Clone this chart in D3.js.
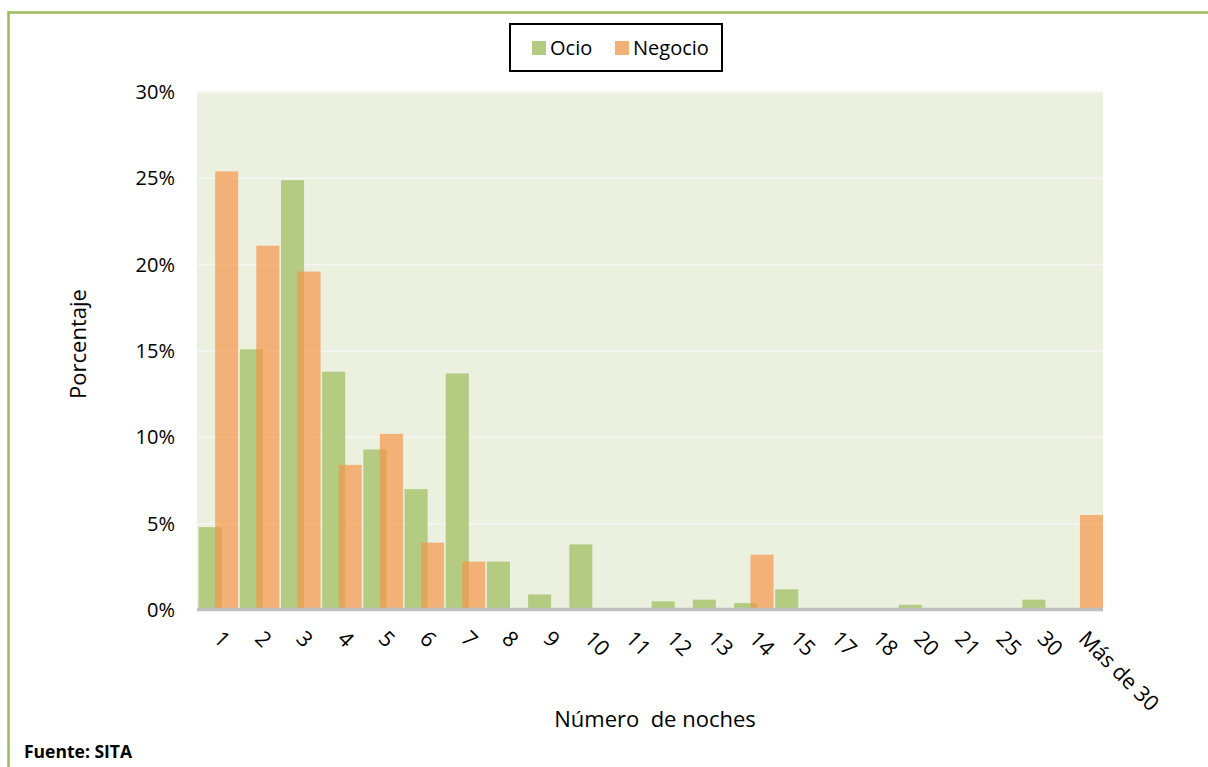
<!DOCTYPE html>
<html>
<head>
<meta charset="utf-8">
<script src="https://cdn.jsdelivr.net/npm/d3@7"></script>
<style>
  html, body { margin: 0; padding: 0; background: #ffffff; }
  svg { display: block; font-family: "Open Sans", sans-serif; }
</style>
</head>
<body>
<svg id="chart" width="1208" height="767"></svg>
<script>
const categories = ["1","2","3","4","5","6","7","8","9","10","11","12","13","14","15","17","18","20","21","25","30","Más de 30"];
const ocio    = [4.8, 15.1, 24.9, 13.8, 9.3, 7.0, 13.7, 2.8, 0.9, 3.8, 0.1, 0.5, 0.6, 0.4, 1.2, 0.1, 0.1, 0.3, 0.1, 0.1, 0.6, 0];
const negocio = [25.4, 21.1, 19.6, 8.4, 10.2, 3.9, 2.8, 0, 0, 0, 0, 0, 0, 3.2, 0, 0, 0, 0, 0, 0, 0, 5.5];
const yTicks = [0, 5, 10, 15, 20, 25, 30];
const seriesNames = ["Ocio", "Negocio"];

const svg = d3.select("#chart");
const plot = { left: 197, right: 1103, top: 92, bottom: 610 };

// outer frame (green lines top and left)
svg.append("line").attr("x1", 8).attr("x2", 1208).attr("y1", 12.5).attr("y2", 12.5)
  .attr("stroke", "#9bbb59").attr("stroke-width", 2.5);
svg.append("line").attr("x1", 8.5).attr("x2", 8.5).attr("y1", 11).attr("y2", 767)
  .attr("stroke", "#9bbb59").attr("stroke-width", 2.5);

const x = d3.scaleBand().domain(categories).range([plot.left, plot.right]).paddingInner(0).paddingOuter(0);
const y = d3.scaleLinear().domain([0, 30]).range([plot.bottom, plot.top]);
const bw = x.bandwidth();

// plot background
svg.append("rect").attr("x", plot.left).attr("y", plot.top)
  .attr("width", plot.right - plot.left).attr("height", plot.bottom - plot.top)
  .attr("fill", "#ebf0df");

// gridlines
svg.append("g").selectAll("line").data(yTicks.filter(d => d > 0)).join("line")
  .attr("x1", plot.left).attr("x2", plot.right)
  .attr("y1", d => y(d)).attr("y2", d => y(d))
  .attr("stroke", "#f4f5f0").attr("stroke-width", 2);

// bars
const data = categories.map((c, i) => ({ c, o: ocio[i], n: negocio[i] }));
svg.append("g").selectAll("rect").data(data).join("rect")
  .attr("x", d => x(d.c) + bw * 0.04)
  .attr("width", bw * 0.56)
  .attr("y", d => y(d.o))
  .attr("height", d => y(0) - y(d.o))
  .attr("fill", "#b3cc82");
svg.append("g").selectAll("rect").data(data).join("rect")
  .attr("x", d => x(d.c) + bw * 0.44)
  .attr("width", bw * 0.56)
  .attr("y", d => y(d.n))
  .attr("height", d => y(0) - y(d.n))
  .attr("fill", "rgb(246,148,70)")
  .attr("fill-opacity", 0.68);

// baseline axis line
svg.append("line").attr("x1", plot.left).attr("x2", plot.right)
  .attr("y1", 609.5).attr("y2", 609.5).attr("stroke", "#c0c0c0").attr("stroke-width", 3.5);

// y axis
const yAxis = svg.append("g").attr("transform", `translate(${plot.left},0)`)
  .call(d3.axisLeft(y).tickValues(yTicks).tickSize(0).tickPadding(22).tickFormat(d => d + "%"));
yAxis.select(".domain").remove();
yAxis.selectAll("text").attr("font-family", "Open Sans").attr("font-size", 20).attr("fill", "#000");

// x axis labels
const xAxis = svg.append("g").attr("transform", `translate(0,${plot.bottom})`)
  .call(d3.axisBottom(x).tickSize(0).tickPadding(0));
xAxis.select(".domain").remove();
xAxis.selectAll("text")
  .attr("font-family", "Open Sans").attr("font-size", 21.5).attr("fill", "#000")
  .attr("text-anchor", "start")
  .attr("dy", 0)
  .attr("y", 0)
  .attr("x", 0)
  .attr("transform", "translate(-5,30) rotate(45)");

// axis titles
svg.append("text").attr("transform", "translate(86,344) rotate(-90)")
  .attr("text-anchor", "middle").attr("font-size", 22).attr("fill", "#000").text("Porcentaje");
svg.append("text").attr("x", 655).attr("y", 727)
  .attr("text-anchor", "middle").attr("font-size", 22).attr("fill", "#000")
  .style("white-space", "pre").attr("xml:space", "preserve").text("Número  de noches");

// legend
const lg = svg.append("g");
lg.append("rect").attr("x", 510).attr("y", 24).attr("width", 212).attr("height", 47)
  .attr("fill", "#fff").attr("stroke", "#000").attr("stroke-width", 2);
const legendItems = [
  { name: seriesNames[0], color: "#b3cc82", sx: 532, tx: 550 },
  { name: seriesNames[1], color: "#f2b174", sx: 615, tx: 633 }
];
lg.selectAll(".sw").data(legendItems).join("rect")
  .attr("x", d => d.sx).attr("y", 41).attr("width", 14).attr("height", 14)
  .attr("fill", d => d.color);
lg.selectAll(".lt").data(legendItems).join("text")
  .attr("x", d => d.tx).attr("y", 55).attr("font-size", 20).attr("fill", "#000")
  .text(d => d.name);

// source note
svg.append("text").attr("x", 24).attr("y", 758).attr("font-size", 17.5)
  .attr("font-weight", "bold").attr("fill", "#000").text("Fuente: SITA");
</script>
</body>
</html>
